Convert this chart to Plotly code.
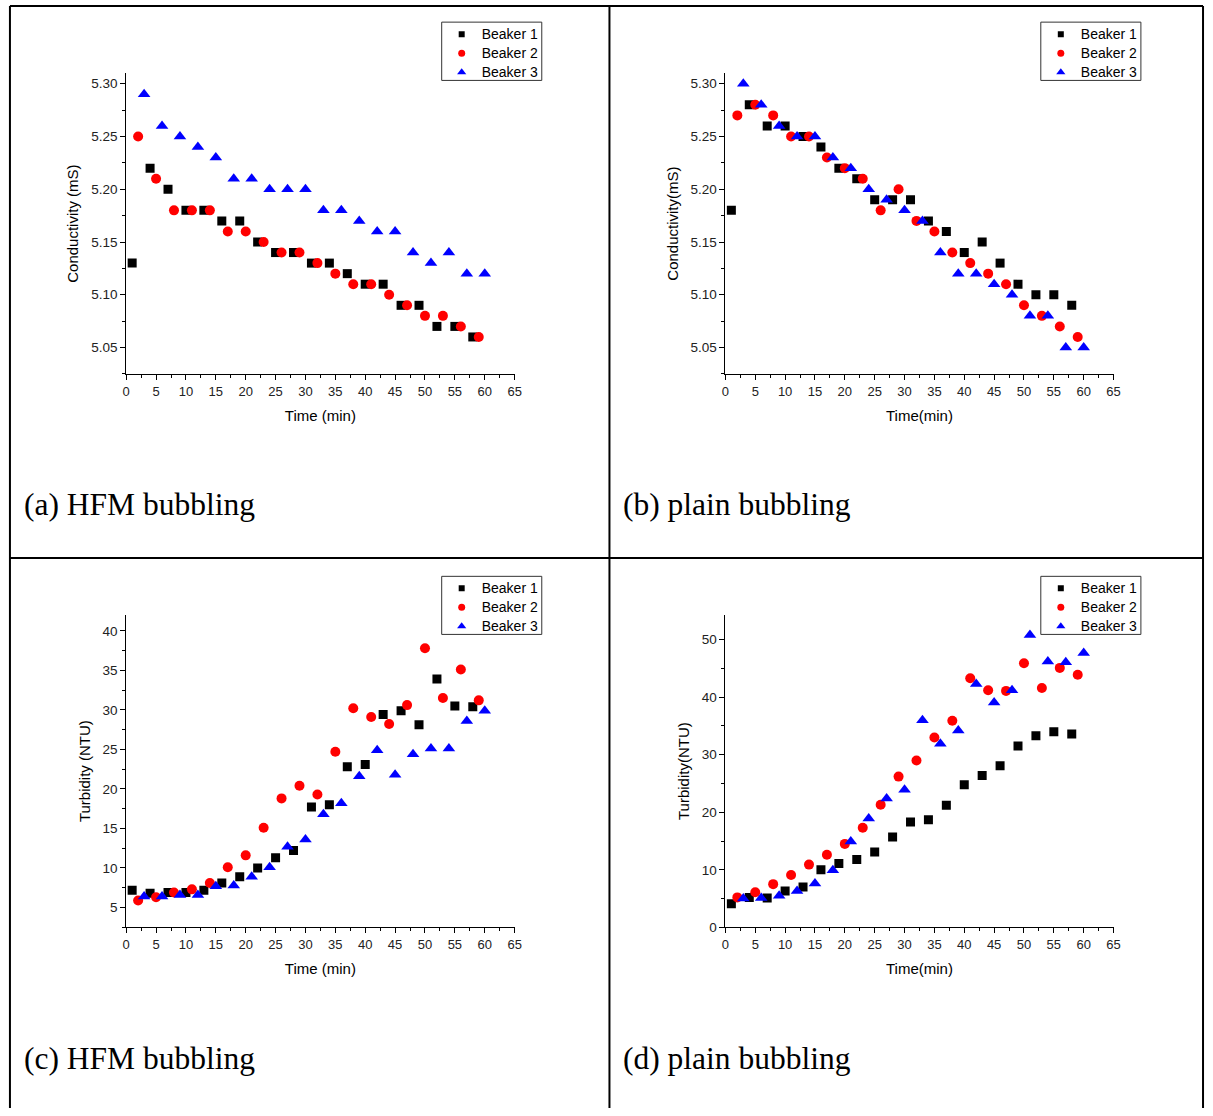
import plotly.graph_objects as go

# ---------------- data ----------------
t1 = [1, 4, 7, 10, 13, 16, 19, 22, 25, 28, 31, 34, 37, 40, 43, 46, 49, 52, 55, 58]
t2 = [2, 5, 8, 11, 14, 17, 20, 23, 26, 29, 32, 35, 38, 41, 44, 47, 50, 53, 56, 59]
t3 = [3, 6, 9, 12, 15, 18, 21, 24, 27, 30, 33, 36, 39, 42, 45, 48, 51, 54, 57, 60]

# (a) HFM bubbling - conductivity
a_b1 = [5.13, 5.22, 5.20, 5.18, 5.18, 5.17, 5.17, 5.15, 5.14, 5.14, 5.13, 5.13, 5.12, 5.11, 5.11, 5.09, 5.09, 5.07, 5.07, 5.06]
a_b2 = [5.25, 5.21, 5.18, 5.18, 5.18, 5.16, 5.16, 5.15, 5.14, 5.14, 5.13, 5.12, 5.11, 5.11, 5.10, 5.09, 5.08, 5.08, 5.07, 5.06]
a_b3 = [5.29, 5.26, 5.25, 5.24, 5.23, 5.21, 5.21, 5.20, 5.20, 5.20, 5.18, 5.18, 5.17, 5.16, 5.16, 5.14, 5.13, 5.14, 5.12, 5.12]

# (b) plain bubbling - conductivity
b_b1 = [5.18, 5.28, 5.26, 5.26, 5.25, 5.24, 5.22, 5.21, 5.19, 5.19, 5.19, 5.17, 5.16, 5.14, 5.15, 5.13, 5.11, 5.10, 5.10, 5.09]
b_b2 = [5.27, 5.28, 5.27, 5.25, 5.25, 5.23, 5.22, 5.21, 5.18, 5.20, 5.17, 5.16, 5.14, 5.13, 5.12, 5.11, 5.09, 5.08, 5.07, 5.06]
b_b3 = [5.30, 5.28, 5.26, 5.25, 5.25, 5.23, 5.22, 5.20, 5.19, 5.18, 5.17, 5.14, 5.12, 5.12, 5.11, 5.10, 5.08, 5.08, 5.05, 5.05]

# (c) HFM bubbling - turbidity
c_b1 = [7.2, 6.8, 6.9, 6.9, 7.2, 8.1, 8.9, 10.0, 11.3, 12.2, 17.7, 18.0, 22.8, 23.1, 29.4, 29.9, 28.1, 33.9, 30.5, 30.4]
c_b2 = [5.9, 6.3, 6.9, 7.3, 8.1, 10.1, 11.6, 15.1, 18.8, 20.4, 19.3, 24.7, 30.2, 29.1, 28.2, 30.6, 37.8, 31.5, 35.1, 31.2]
c_b3 = [6.4, 6.4, 6.6, 6.6, 7.7, 7.8, 8.9, 10.1, 12.7, 13.6, 16.8, 18.2, 21.6, 24.9, 21.8, 24.4, 25.1, 25.1, 28.6, 29.9]

# (d) plain bubbling - turbidity
d_b1 = [4.1, 5.2, 5.1, 6.3, 7.0, 10.0, 11.1, 11.8, 13.1, 15.7, 18.3, 18.7, 21.2, 24.8, 26.4, 28.1, 31.5, 33.3, 34.0, 33.6]
d_b2 = [5.2, 6.1, 7.5, 9.1, 10.9, 12.6, 14.5, 17.3, 21.3, 26.2, 29.0, 33.0, 35.9, 43.3, 41.2, 41.1, 45.9, 41.6, 45.1, 43.9]
d_b3 = [5.0, 5.1, 5.5, 6.3, 7.6, 9.9, 14.9, 18.9, 22.4, 23.9, 36.0, 31.9, 34.2, 42.3, 39.1, 41.2, 50.8, 46.2, 46.1, 47.7]

series_names = ["Beaker 1", "Beaker 2", "Beaker 3"]
captions = ["(a) HFM bubbling", "(b) plain bubbling", "(c) HFM bubbling", "(d) plain bubbling"]
y_titles = ["Conductivity (mS)", "Conductivity(mS)", "Turbidity (NTU)", "Turbidity(NTU)"]
x_titles = ["Time (min)", "Time(min)", "Time (min)", "Time(min)"]

# ---------------- layout constants ----------------
W, H = 1213, 1116
SANS = "Liberation Sans, Arial, sans-serif"
SERIF = "Liberation Serif, Times New Roman, serif"

def px_x(p):
    return p / W

def px_y(p):
    return 1 - p / H

left_dom = [px_x(123.3), px_x(515.3)]
right_dom = [px_x(728.0), px_x(1119.7)]
top_dom = [px_y(376.7), px_y(73.7)]
bot_dom = [px_y(934.0), px_y(619.4)]

# legend box: (left, top, right, bottom) in pixels
panels = [
    dict(data=[a_b1, a_b2, a_b3], xd=left_dom, yd=top_dom, yr=[5.0249, 5.31], ydt=0.05, ymdt=0.025, y0=5.05, fmt=".2f",
         box=(441.7, 22.3, 542.7, 81.0), cap=(18, 508)),
    dict(data=[b_b1, b_b2, b_b3], xd=right_dom, yd=top_dom, yr=[5.0249, 5.31], ydt=0.05, ymdt=0.025, y0=5.05, fmt=".2f",
         box=(1046.3, 22.3, 1147.3, 81.0), cap=(623, 508)),
    dict(data=[c_b1, c_b2, c_b3], xd=left_dom, yd=bot_dom, yr=[2.5, 42.0], ydt=5, ymdt=2.5, y0=5, fmt="",
         box=(441.7, 580.5, 542.7, 639.0), cap=(18, 1066)),
    dict(data=[d_b1, d_b2, d_b3], xd=right_dom, yd=bot_dom, yr=[0, 54.3], ydt=10, ymdt=5, y0=0, fmt="",
         box=(1046.3, 580.5, 1147.3, 639.0), cap=(623, 1066)),
]

styles = [
    dict(symbol="square", size=9, color="#000000"),
    dict(symbol="circle", size=10, color="#ff0000"),
    dict(symbol="triangle-up", size=11, color="#0000ff"),
]
legend_marker_sizes = [6, 7, 8]
times = [t1, t2, t3]

fig = go.Figure()
layout = dict(
    width=W, height=H,
    margin=dict(l=0, r=0, t=0, b=0),
    paper_bgcolor="white", plot_bgcolor="white",
    showlegend=True,
    font=dict(family=SANS, color="#000000"),
)
annotations = []
shapes = []

for i, p in enumerate(panels):
    k = "" if i == 0 else str(i + 1)
    legname = "legend" + k
    for j in range(3):
        st = styles[j]
        fig.add_trace(go.Scatter(
            x=times[j], y=p["data"][j], mode="markers", name=series_names[j],
            marker=dict(symbol=st["symbol"], size=st["size"], color=st["color"], line=dict(width=0)),
            xaxis="x" + k, yaxis="y" + k, showlegend=False,
        ))
    # legend entries with the smaller symbols seen in the original legend boxes
    for j in range(3):
        st = styles[j]
        fig.add_trace(go.Scatter(
            x=[None], y=[None], mode="markers",
            name="<span style='font-size:14px'>" + series_names[j] + "</span>",
            marker=dict(symbol=st["symbol"], size=legend_marker_sizes[j], color=st["color"], line=dict(width=0)),
            xaxis="x" + k, yaxis="y" + k, legend=legname, showlegend=True, hoverinfo="skip",
        ))
    layout["xaxis" + k] = dict(
        domain=p["xd"], anchor="y" + k, range=[0, 65], tick0=0, dtick=5,
        showline=True, linecolor="#000000", linewidth=1, mirror=False,
        showgrid=False, zeroline=False,
        ticks="outside", ticklen=5, tickwidth=1, tickcolor="#000000",
        minor=dict(ticks="outside", ticklen=3, tickwidth=1, tickcolor="#000000", dtick=2.5, tick0=0, showgrid=False),
        tickfont=dict(family=SANS, size=13, color="#222222"),
        title=dict(text=x_titles[i], font=dict(family=SANS, size=15, color="#000000"), standoff=12),
        fixedrange=True,
    )
    layout["yaxis" + k] = dict(
        domain=p["yd"], anchor="x" + k, range=p["yr"], tick0=p["y0"], dtick=p["ydt"], tickformat=p["fmt"],
        showline=True, linecolor="#000000", linewidth=1, mirror=False,
        showgrid=False, zeroline=False,
        ticks="outside", ticklen=5, tickwidth=1, tickcolor="#000000",
        minor=dict(ticks="outside", ticklen=3, tickwidth=1, tickcolor="#000000", dtick=p["ymdt"], tick0=p["y0"], showgrid=False),
        tickfont=dict(family=SANS, size=13.5, color="#222222"),
        title=dict(text=y_titles[i], font=dict(family=SANS, size=15, color="#000000"), standoff=8),
        fixedrange=True,
    )
    bx0, by0, bx1, by1 = p["box"]
    shapes.append(dict(type="rect", xref="paper", yref="paper",
                       x0=px_x(bx0), y0=px_y(by1), x1=px_x(bx1), y1=px_y(by0),
                       line=dict(color="#333333", width=1), fillcolor="white", layer="above"))
    layout[legname] = dict(
        x=px_x(bx0), y=px_y(by0 - 2.5), xanchor="left", yanchor="top",
        xref="paper", yref="paper",
        bgcolor="rgba(0,0,0,0)", borderwidth=0,
        font=dict(family=SANS, size=12, color="#000000"),
        tracegroupgap=0, itemsizing="trace",
    )
    annotations.append(dict(
        text=captions[i], x=px_x(p["cap"][0]), y=px_y(p["cap"][1]), xref="paper", yref="paper",
        xanchor="left", yanchor="middle", showarrow=False,
        font=dict(family=SERIF, size=31.5, color="#000000"),
    ))

# panel frame lines
line_style = dict(color="#000000", width=2)
frame = [
    (6, 6, 6, 1116), (611, 6, 611, 1116), (1210, 6, 1210, 1116),
    (6, 6, 1210, 6), (6, 562, 1210, 562),
]
for (x0, y0, x1, y1) in frame:
    shapes.append(dict(type="line", xref="paper", yref="paper",
                       x0=px_x(x0), y0=px_y(y0), x1=px_x(x1), y1=px_y(y1), line=line_style))

layout["annotations"] = annotations
layout["shapes"] = shapes
fig.update_layout(**layout)

fig.write_html("out.html")
